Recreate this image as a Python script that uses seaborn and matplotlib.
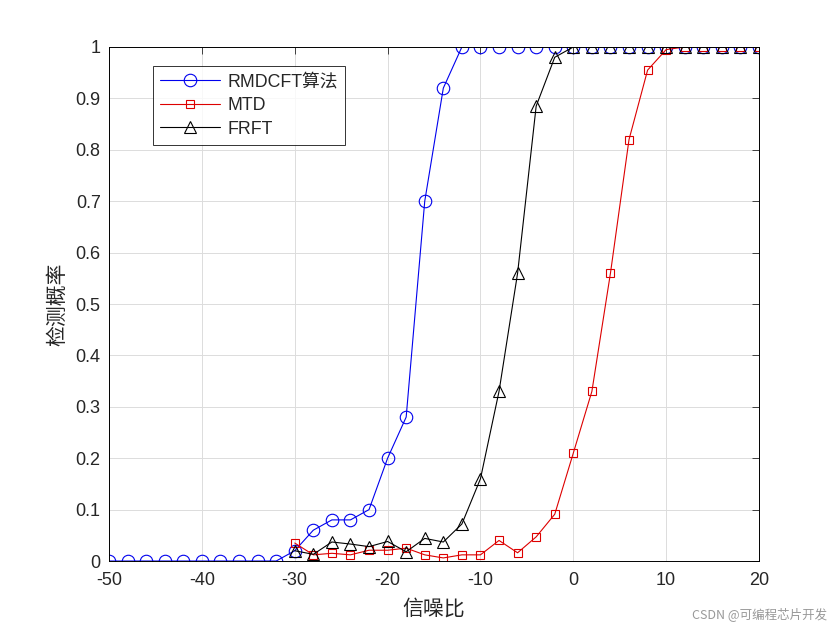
import numpy as np
import pandas as pd
import matplotlib
matplotlib.use('Agg')
import matplotlib.pyplot as plt
import seaborn as sns

# SNR grid (dB)
snr_blue = list(range(-50, 21, 2))
snr_other = list(range(-30, 21, 2))

rmdcft = [0, 0, 0, 0, 0, 0, 0, 0, 0, 0,
          0.02, 0.06, 0.08, 0.08, 0.10, 0.20, 0.28, 0.70, 0.92,
          1, 1, 1, 1, 1, 1, 1, 1, 1, 1, 1, 1, 1, 1, 1, 1, 1]
mtd = [0.035, 0.012, 0.015, 0.012, 0.021, 0.021, 0.025, 0.012, 0.006, 0.012,
       0.012, 0.040, 0.016, 0.047, 0.091, 0.21, 0.33, 0.56, 0.82, 0.955,
       0.995, 1, 1, 1, 1, 1]
frft = [0.02, 0.013, 0.037, 0.033, 0.028, 0.038, 0.018, 0.044, 0.037, 0.072,
        0.16, 0.33, 0.56, 0.885, 0.98, 1, 1, 1, 1, 1, 1, 1, 1, 1, 1, 1]

labels = ['RMDCFT算法', 'MTD', 'FRFT']
x_ticks = list(range(-50, 21, 10))
y_ticks = [i / 10 for i in range(11)]
y_ticklabels = ['0', '0.1', '0.2', '0.3', '0.4', '0.5', '0.6', '0.7', '0.8', '0.9', '1']

sns.set_style('white')
plt.rcParams['font.family'] = ['Liberation Sans', 'Noto Sans CJK SC', 'DejaVu Sans']
plt.rcParams['axes.unicode_minus'] = False

fig = plt.figure(figsize=(8.4, 6.3), dpi=100)
ax = fig.add_axes([0.1298, 0.1095, 0.7738, 0.8159])

df_b = pd.DataFrame({'snr': snr_blue, 'pd': rmdcft})
df_r = pd.DataFrame({'snr': snr_other, 'pd': mtd})
df_k = pd.DataFrame({'snr': snr_other, 'pd': frft})

sns.lineplot(data=df_b, x='snr', y='pd', ax=ax, color='#0000ee', lw=0.8,
             marker='o', markersize=9, markerfacecolor='none',
             markeredgecolor='#0000ee', markeredgewidth=0.8, label=labels[0])
sns.lineplot(data=df_r, x='snr', y='pd', ax=ax, color='#dd0000', lw=0.8,
             marker='s', markersize=6, markerfacecolor='none',
             markeredgecolor='#dd0000', markeredgewidth=0.8, label=labels[1])
sns.lineplot(data=df_k, x='snr', y='pd', ax=ax, color='black', lw=0.8,
             marker='^', markersize=9, markerfacecolor='none',
             markeredgecolor='black', markeredgewidth=0.8, label=labels[2])

ax.set_xlim(-50, 20)
ax.set_ylim(0, 1)
ax.set_xticks(x_ticks)
ax.set_yticks(y_ticks)
ax.set_yticklabels(y_ticklabels)
ax.tick_params(direction='in', top=True, right=True, labelsize=13, length=5,
               width=0.6)
ax.tick_params(axis='x', pad=8)
ax.tick_params(axis='y', pad=6)
ax.grid(True, color='#dcdcdc', lw=0.7)
for sp in ax.spines.values():
    sp.set_color('black')
    sp.set_linewidth(0.7)

ax.set_xlabel('信噪比', fontsize=15, family=['Noto Sans CJK SC'], labelpad=6)
ax.set_ylabel('检测概率', fontsize=15, family=['Noto Sans CJK SC'], labelpad=5)

leg = ax.legend(loc='upper left', bbox_to_anchor=(0.067, 0.963), fontsize=12.8,
                frameon=True, fancybox=False, edgecolor='black',
                borderpad=0.4, labelspacing=0.38, handlelength=3.4,
                handletextpad=0.4, borderaxespad=0)
leg.get_frame().set_linewidth(0.7)

fig.text(0.985, 0.015, 'CSDN @可编程芯片开发', ha='right', va='bottom',
         fontsize=9, color='#999999', family=['Noto Sans CJK SC', 'DejaVu Sans'])

fig.savefig('out.png', dpi=100, facecolor='white')
